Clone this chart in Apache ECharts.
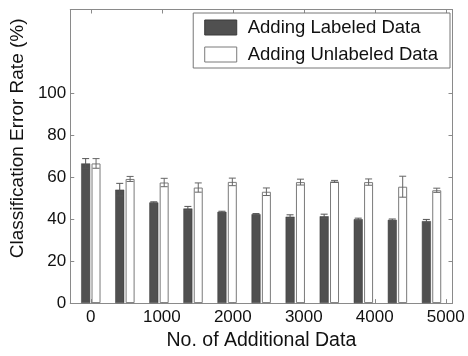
<!DOCTYPE html>
<html>
<head>
<meta charset="utf-8">
<script src="https://cdn.jsdelivr.net/npm/echarts@6/dist/echarts.min.js"></script>
<style>
  html, body { margin: 0; padding: 0; background: #fff; }
  #chart { width: 468px; height: 356px; }
</style>
</head>
<body>
<div id="chart"></div>
<script>
// x positions (no. of additional data) for each bar group
const xValues = [0, 480, 960, 1440, 1920, 2400, 2880, 3360, 3840, 4320, 4800];
const labeledRate = [66.6, 54.1, 48.0, 45.1, 43.5, 42.4, 41.2, 41.4, 40.0, 39.7, 39.1];
const labeledErr = [2.3, 3.0, 0.3, 1.0, 0.3, 0.3, 0.9, 1.0, 0.5, 0.4, 0.8];
const unlabeledRate = [66.6, 59.2, 57.5, 55.1, 57.8, 53.1, 57.7, 58.0, 57.7, 55.5, 53.8];
const unlabeledErr = [2.3, 1.2, 2.0, 2.2, 1.8, 1.8, 1.4, 0.5, 1.5, 5.0, 1.0];
const xTicks = [0, 1000, 2000, 3000, 4000, 5000];
const yTicks = [0, 20, 40, 60, 80, 100];

const font = "Liberation Sans";
const axisColor = "#8a8a8a";
const barW = 9;
const barOffset = 5.2;

const chart = echarts.init(document.getElementById("chart"));

/** error bar drawn through the axis scale, shifted onto its bar */
function errorBar(offset, color) {
  return function (params, api) {
    const x = api.value(0);
    const y = api.value(1);
    const e = api.value(2);
    const top = api.coord([x, y + e]);
    const bot = api.coord([x, y - e]);
    const cx = top[0] + offset;
    const half = 3.5;
    const style = { stroke: color, lineWidth: 1 };
    return {
      type: "group",
      children: [
        { type: "line", shape: { x1: cx, y1: top[1], x2: cx, y2: bot[1] }, style },
        { type: "line", shape: { x1: cx - half, y1: top[1], x2: cx + half, y2: top[1] }, style },
        { type: "line", shape: { x1: cx - half, y1: bot[1], x2: cx + half, y2: bot[1] }, style }
      ]
    };
  };
}

const pair = (vals) => xValues.map((x, i) => [x, vals[i]]);
const triple = (vals, errs) => xValues.map((x, i) => [x, vals[i], errs[i]]);
const plain = (v) => String(v);

chart.setOption({
  animation: false,
  textStyle: { fontFamily: font },
  grid: { left: 66.5, right: 15.5, top: 9.5, bottom: 42.5, containLabel: false },
  legend: {
    data: ["Adding Labeled Data", "Adding Unlabeled Data"],
    orient: "vertical",
    right: 18,
    top: 13,
    icon: "rect",
    itemWidth: 32,
    itemHeight: 15,
    itemGap: 8,
    padding: [5, 12, 4, 11],
    borderColor: "#777",
    borderWidth: 1,
    backgroundColor: "#fff",
    itemStyle: { borderWidth: 1 },
    textStyle: { fontFamily: font, fontSize: 18.5, color: "#111", padding: [0, 0, 0, 6] }
  },
  xAxis: [
    {
      type: "value",
      min: -290,
      max: 5095,
      name: "No. of Additional Data",
      nameLocation: "middle",
      nameGap: 23,
      nameTextStyle: { fontFamily: font, fontSize: 19.5, color: "#111" },
      axisLine: { show: true, onZero: false, lineStyle: { color: axisColor } },
      axisTick: { show: true, inside: true, length: 4, customValues: xTicks, lineStyle: { color: axisColor } },
      axisLabel: { customValues: xTicks, formatter: plain, fontFamily: font, fontSize: 17, color: "#111", margin: 6 },
      splitLine: { show: false }
    },
    {
      type: "value",
      position: "top",
      min: -290,
      max: 5095,
      axisLine: { show: true, onZero: false, lineStyle: { color: axisColor } },
      axisTick: { show: true, inside: true, length: 4, customValues: xTicks, lineStyle: { color: axisColor } },
      axisLabel: { show: false },
      splitLine: { show: false }
    }
  ],
  yAxis: [
    {
      type: "value",
      min: 0,
      max: 140,
      name: "Classification Error Rate (%)",
      nameLocation: "middle",
      nameGap: 37,
      nameTextStyle: { fontFamily: font, fontSize: 19, color: "#111", padding: [0, 0, 0, 36] },
      axisLine: { show: true, onZero: false, lineStyle: { color: axisColor } },
      axisTick: { show: true, inside: true, length: 4, customValues: yTicks, lineStyle: { color: axisColor } },
      axisLabel: { customValues: yTicks, formatter: plain, fontFamily: font, fontSize: 17, color: "#111", margin: 4 },
      splitLine: { show: false }
    },
    {
      type: "value",
      position: "right",
      min: 0,
      max: 140,
      axisLine: { show: true, onZero: false, lineStyle: { color: axisColor } },
      axisTick: { show: true, inside: true, length: 4, customValues: yTicks, lineStyle: { color: axisColor } },
      axisLabel: { show: false },
      splitLine: { show: false }
    }
  ],
  series: [
    {
      name: "Adding Labeled Data",
      type: "bar",
      barWidth: barW,
      barGap: "15%",
      itemStyle: { color: "#505050", borderColor: "#3a3a3a", borderWidth: 0.5 },
      data: pair(labeledRate)
    },
    {
      name: "Adding Unlabeled Data",
      type: "bar",
      barWidth: barW,
      barGap: "15%",
      itemStyle: { color: "#ffffff", borderColor: "#7a7a7a", borderWidth: 1 },
      data: pair(unlabeledRate)
    },
    {
      type: "custom",
      z: 5,
      renderItem: errorBar(-barOffset, "#555"),
      data: triple(labeledRate, labeledErr)
    },
    {
      type: "custom",
      z: 5,
      renderItem: errorBar(barOffset, "#666"),
      data: triple(unlabeledRate, unlabeledErr)
    }
  ]
});
</script>
</body>
</html>
